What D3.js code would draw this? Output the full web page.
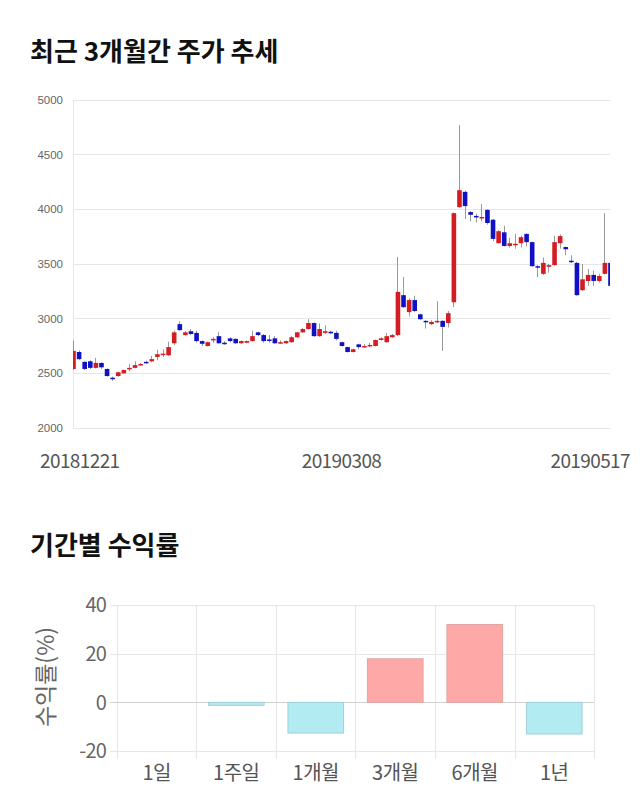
<!DOCTYPE html>
<html><head><meta charset="utf-8">
<script src="https://cdn.jsdelivr.net/npm/d3@7"></script>
<style>
html,body{margin:0;padding:0;background:#fff;}
svg{display:block;}
</style></head>
<body>
<svg id="c" width="640" height="810"></svg>
<script>
// ---- Data ----
const dates = ["20181221","20181224","20181226","20181227","20181228",
"20190102","20190103","20190104","20190107","20190108","20190109","20190110","20190111",
"20190114","20190115","20190116","20190117","20190118","20190121","20190122","20190123","20190124","20190125",
"20190128","20190129","20190130","20190131","20190201","20190207","20190208",
"20190211","20190212","20190213","20190214","20190215","20190218","20190219","20190220","20190221","20190222",
"20190225","20190226","20190227","20190228","20190304","20190305","20190306","20190307","20190308",
"20190311","20190312","20190313","20190314","20190315","20190318","20190319","20190320","20190321","20190322",
"20190325","20190326","20190327","20190328","20190329","20190401","20190402","20190403","20190404","20190405",
"20190408","20190409","20190410","20190411","20190412","20190415","20190416","20190417","20190418","20190419",
"20190422","20190423","20190424","20190425","20190426","20190429","20190430","20190502","20190503",
"20190507","20190508","20190509","20190510","20190513","20190514","20190515","20190516","20190517"];
const openP  = [2540,2695,2605,2610,2550,2595,2540,2460,2475,2500,2545,2550,2575,2605,2610,2650,2675,2665,2775,2950,
2850,2885,2870,2795,2750,2805,2840,2780,2820,2815,2775,2780,2795,2875,2850,2810,2820,2775,2775,2785,
2830,2875,2905,2960,2840,2870,2880,2870,2785,2740,2695,2765,2750,2755,2750,2805,2785,2830,2850,3215,
3060,3170,3040,2980,2950,2975,2980,2960,3150,4020,4160,3975,3940,3920,3995,3905,3690,3790,3665,3680,
3690,3775,3700,3480,3410,3475,3490,3690,3655,3530,3510,3260,3345,3400,3345,3410,3510];
const closeP = [2705,2630,2540,2550,2595,2555,2475,2455,2510,2530,2550,2575,2585,2595,2630,2675,2680,2740,2875,2895,
2875,2860,2795,2770,2785,2815,2775,2775,2795,2775,2795,2795,2840,2850,2795,2805,2775,2785,2795,2830,
2875,2905,2960,2840,2905,2885,2875,2815,2750,2695,2720,2740,2750,2760,2805,2820,2840,2850,3245,3105,
3170,3070,2995,2975,2970,2980,2925,3050,3965,4175,4030,3950,3935,3930,3875,3730,3800,3665,3690,3685,
3745,3700,3480,3475,3510,3490,3700,3755,3635,3525,3215,3360,3400,3345,3390,3510,3300];
const highP  = [2800,2710,2610,2620,2640,2600,2545,2470,2515,2535,2585,2610,2595,2615,2660,2715,2720,2790,2890,2975,
2885,2905,2890,2800,2790,2830,2880,2795,2830,2820,2800,2800,2890,2880,2860,2850,2840,2800,2800,2840,
2880,2915,2995,2965,2955,2940,2890,2890,2790,2745,2725,2770,2770,2780,2810,2830,2870,2860,3565,3380,
3185,3210,3045,2985,2985,3160,2985,3070,3970,4770,4170,3985,3960,4050,4000,3910,3810,3850,3740,3775,
3760,3780,3705,3490,3560,3500,3760,3770,3660,3580,3520,3500,3455,3440,3410,3965,3515];
const lowP   = [2530,2620,2530,2540,2545,2540,2470,2430,2470,2495,2520,2545,2570,2590,2600,2620,2650,2660,2760,2890,
2845,2850,2780,2750,2745,2780,2770,2760,2785,2770,2770,2775,2790,2840,2780,2780,2770,2770,2770,2780,
2820,2870,2900,2835,2835,2860,2860,2800,2745,2690,2690,2720,2735,2740,2745,2800,2780,2825,2840,3100,
3020,3060,2990,2910,2940,2960,2705,2920,3105,4015,3910,3890,3880,3890,3860,3710,3690,3660,3650,3640,
3650,3660,3475,3380,3400,3420,3485,3640,3580,3510,3210,3255,3300,3300,3330,3405,3290];
const priceTicks = [2000,2500,3000,3500,4000,4500,5000];
const dateLabels = ["20181221","20190308","20190517"];

const periods = ["1일","1주일","1개월","3개월","6개월","1년"];
const returns = [0,-1.2,-12.6,17.9,32.0,-13.0];
const returnTicks = [-20,0,20,40];

// ---- Drawing ----
const svg = d3.select("#c");
const KR = "'Noto Sans CJK KR','Noto Sans',sans-serif";

// Titles
svg.append("text").attr("x",30).attr("y",61).text("최근 3개월간 주가 추세")
  .attr("font-family",KR).attr("font-weight","bold").attr("font-size",26).attr("fill","#111");
svg.append("text").attr("x",30).attr("y",555).text("기간별 수익률")
  .attr("font-family",KR).attr("font-weight","bold").attr("font-size",26).attr("fill","#111");

// Candle chart
const x = d3.scalePoint().domain(dates).range([73,610]);
const y = d3.scaleLinear().domain([2000,5000]).range([428,100]);

const g1 = svg.append("g");
g1.selectAll("line.grid").data(priceTicks).join("line")
  .attr("x1",73).attr("x2",610).attr("y1",d=>y(d)).attr("y2",d=>y(d))
  .attr("stroke","#e6e6e6").attr("stroke-width",1).attr("shape-rendering","crispEdges");
g1.append("line").attr("x1",73).attr("x2",73).attr("y1",y(5000)).attr("y2",y(2000))
  .attr("stroke","#e6e6e6").attr("shape-rendering","crispEdges");
g1.selectAll("text.yt").data(priceTicks).join("text")
  .attr("x",63).attr("y",d=>y(d)).attr("dy","0.35em").attr("text-anchor","end")
  .attr("font-family","'Liberation Sans',Arial,sans-serif").attr("font-size",11.5).attr("fill","#666")
  .text(d=>d);

svg.append("clipPath").attr("id","clip").append("rect").attr("x",73).attr("y",90).attr("width",537).attr("height",350);
const cg = g1.append("g").attr("clip-path","url(#clip)");
const idx = d3.range(dates.length);
cg.selectAll("line.wick").data(idx).join("line")
  .attr("x1",i=>Math.round(x(dates[i]))+0.5).attr("x2",i=>Math.round(x(dates[i]))+0.5)
  .attr("y1",i=>y(highP[i])).attr("y2",i=>y(lowP[i]))
  .attr("stroke","#999").attr("stroke-width",1);
const bw = 4.6;
cg.selectAll("rect.body").data(idx).join("rect")
  .attr("x",i=>x(dates[i])-bw/2+0.5).attr("width",bw)
  .attr("y",i=>y(Math.max(openP[i],closeP[i])))
  .attr("height",i=>Math.max(1.5,Math.abs(y(openP[i])-y(closeP[i]))))
  .attr("fill",i=>closeP[i]>=openP[i]?"#d41c22":"#1010c4");

// date labels
g1.selectAll("text.xt").data(dateLabels).join("text")
  .attr("y",468).attr("text-anchor","middle")
  .attr("font-family",KR).attr("font-size",19).attr("fill","#555").attr("letter-spacing","-0.6")
  .text(d=>d)
  .attr("x",function(d){
    const w=this.getComputedTextLength();
    return Math.min(630-w/2, Math.max(40+w/2, x(d)));
  });

// Bar chart
const xb = d3.scaleBand().domain(periods).range([117,594]).paddingInner(0.3).paddingOuter(0.15);
const yb = d3.scaleLinear().domain([-20,40]).range([751,605]);
const g2 = svg.append("g");
const bandEdges = periods.map(p=>xb(p)-xb.step()*xb.paddingInner()/2).concat([594]);
g2.selectAll("line.vg").data(bandEdges).join("line")
  .attr("x1",d=>Math.round(d)+0.5).attr("x2",d=>Math.round(d)+0.5).attr("y1",yb(40)).attr("y2",yb(-20)+8)
  .attr("stroke","#e6e6e6");
g2.selectAll("line.hg").data(returnTicks).join("line")
  .attr("x1",110).attr("x2",594).attr("y1",d=>Math.round(yb(d))+0.5).attr("y2",d=>Math.round(yb(d))+0.5)
  .attr("stroke",d=>d===0?"#d0d0d0":"#e6e6e6");
g2.selectAll("text.yt").data(returnTicks).join("text")
  .attr("x",106).attr("y",d=>yb(d)).attr("dy","0.36em").attr("text-anchor","end")
  .attr("font-family",KR).attr("font-size",20).attr("fill","#666").attr("letter-spacing","-0.8")
  .text(d=>d);
g2.selectAll("rect.bar").data(periods).join("rect")
  .attr("x",p=>xb(p)).attr("width",xb.bandwidth())
  .attr("y",(p,i)=>yb(Math.max(0,returns[i])))
  .attr("height",(p,i)=>Math.abs(yb(returns[i])-yb(0)))
  .attr("fill",(p,i)=>returns[i]>=0?"#ffa8a8":"#b2ebf2")
  .attr("stroke",(p,i)=>returns[i]>=0?"#e0a4a4":"#a0d0d8").attr("stroke-width",1);
g2.selectAll("text.xt").data(periods).join("text")
  .attr("x",p=>xb(p)+xb.bandwidth()/2).attr("y",780).attr("text-anchor","middle")
  .attr("font-family",KR).attr("font-size",20).attr("fill","#555").attr("letter-spacing","-0.5")
  .text(p=>p);
g2.append("text").attr("transform","translate(54,677) rotate(-90)").attr("text-anchor","middle")
  .attr("font-family",KR).attr("font-size",23).attr("fill","#666").text("수익률(%)");
</script>
</body></html>
